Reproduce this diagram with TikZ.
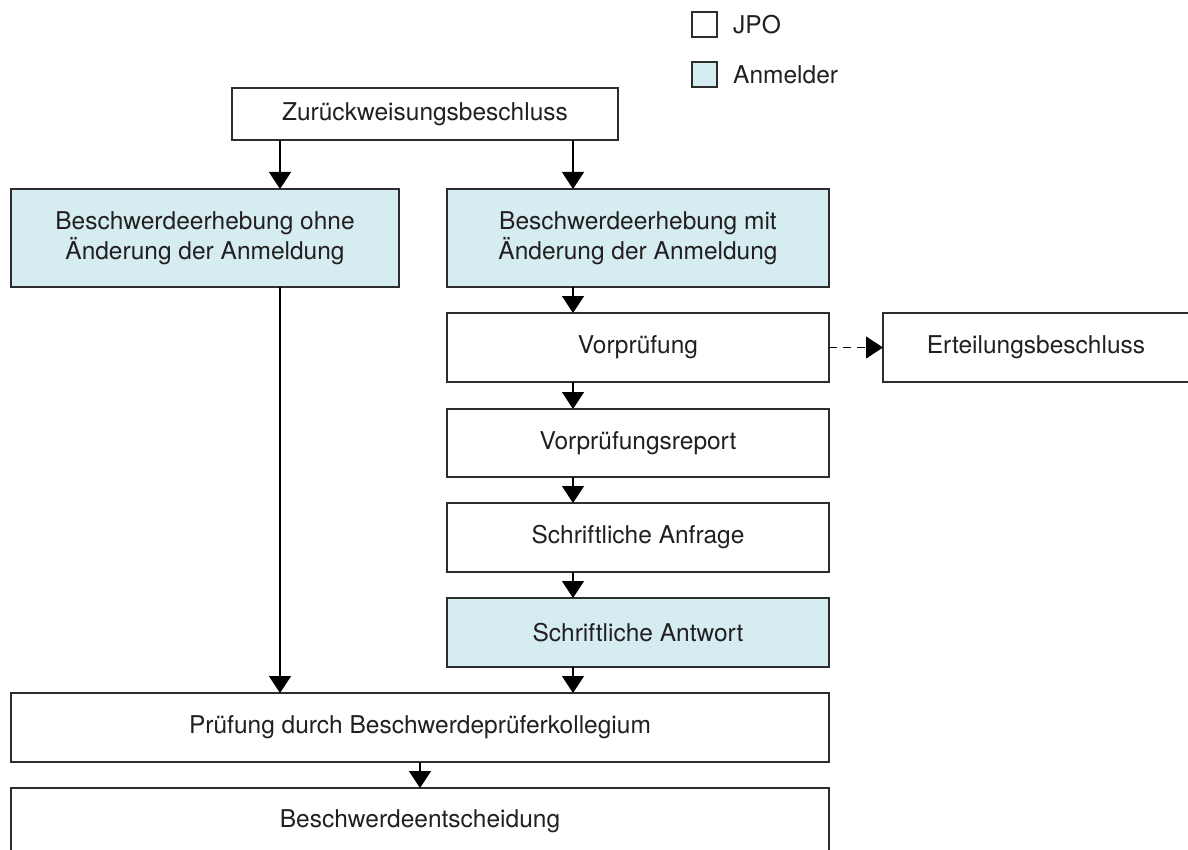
\documentclass[tikz,border=0pt]{standalone}
\usepackage{fontspec}
\setmainfont{TeX Gyre Heros}
\usetikzlibrary{arrows.meta}
\definecolor{anm}{RGB}{213,236,240}
\definecolor{bord}{RGB}{45,45,45}
\definecolor{txt}{RGB}{35,31,32}
\tikzset{
  box/.style={draw=bord, line width=1.3pt, fill=white, inner sep=0pt, outer sep=0pt,
    align=center, text=txt, font=\fontsize{24.5}{29.5}\selectfont},
  anmbox/.style={box, fill=anm},
  lbl/.style={anchor=west, inner sep=0pt, text=txt, font=\fontsize{24.5}{29.5}\selectfont},
  arr/.style={line width=1.2pt, draw=black, -{Triangle[length=17pt,width=22pt]}},
  darr/.style={arr, dash pattern=on 8pt off 6pt},
}
\begin{document}
\begin{tikzpicture}[x=1pt,y=-1pt]
\useasboundingbox (0,0) rectangle (1188,850);
\clip (0,0) rectangle (1188,850);
% legend
\node[box, minimum width=25pt, minimum height=25pt] (lj) at (704.5,24.5) {};
\node[lbl] (ljt) at (733,24.5) {JPO};
\node[anmbox, minimum width=25pt, minimum height=25pt] (la) at (704.5,74.5) {};
\node[lbl] (lat) at (733,74.5) {Anmelder};
% columns
\coordinate (xl) at (280,0);
\coordinate (xr) at (573,0);
\coordinate (xm) at (420,0);
% boxes
\node[box, minimum width=386pt, minimum height=52pt] (zb) at (425,114) {Zurückweisungsbeschluss};
\node[anmbox, minimum width=388pt, minimum height=98pt] (lb) at (205,238)
  {Beschwerdeerhebung ohne\\Änderung der Anmeldung};
\node[anmbox, minimum width=382pt, minimum height=98pt] (rb) at (638,238)
  {Beschwerdeerhebung mit\\Änderung der Anmeldung};
\node[box, minimum width=382pt, minimum height=69pt] (vp) at (638,347.5) {Vorprüfung};
\node[box, minimum width=317pt, minimum height=69pt] (eb) at (1041.5,347.5) {};
\node[text=txt, font=\fontsize{24.5}{29.5}\selectfont, inner sep=0pt] (ebt) at (1036,347.5) {Erteilungsbeschluss};
\node[box, minimum width=382pt, minimum height=68pt] (vr) at (638,443) {Vorprüfungsreport};
\node[box, minimum width=382pt, minimum height=69pt] (sa) at (638,537.5) {Schriftliche Anfrage};
\node[anmbox, minimum width=382pt, minimum height=69pt] (sw) at (638,632.5) {Schriftliche Antwort};
\node[box, minimum width=818pt, minimum height=69pt] (pr) at (420,727.5) {Prüfung durch Beschwerdeprüferkollegium};
\node[box, minimum width=818pt, minimum height=69pt] (be) at (420,822.5) {};
\node[text=txt, font=\fontsize{24.5}{29.5}\selectfont, inner sep=0pt] (bet) at (420,821) {Beschwerdeentscheidung};
% connectors
\draw[arr] (zb.south -| xl) -- (lb.north -| xl);
\draw[arr] (zb.south -| xr) -- (rb.north -| xr);
\draw[arr] (lb.south -| xl) -- (pr.north -| xl);
\draw[arr] (rb.south -| xr) -- (vp.north -| xr);
\draw[darr] (vp.east) -- (eb.west);
\draw[arr] (vp.south -| xr) -- (vr.north -| xr);
\draw[arr] (vr.south -| xr) -- (sa.north -| xr);
\draw[arr] (sa.south -| xr) -- (sw.north -| xr);
\draw[arr] (sw.south -| xr) -- (pr.north -| xr);
\draw[arr] (pr.south -| xm) -- (be.north -| xm);
\end{tikzpicture}
\end{document}
